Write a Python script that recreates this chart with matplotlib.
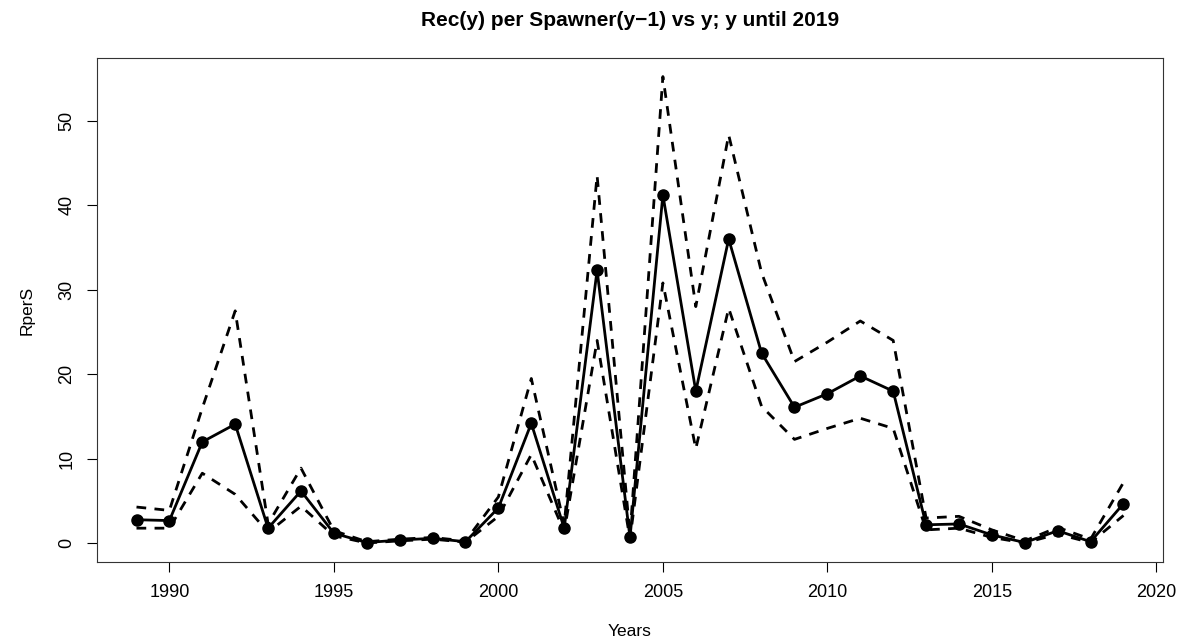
import matplotlib.pyplot as plt
import numpy as np

plt.rcParams['font.family'] = ['Liberation Sans', 'DejaVu Sans']

years = np.arange(1989, 2020)
rpers = [2.8, 2.7, 12.0, 14.1, 1.8, 6.2, 1.2, 0.1, 0.4, 0.6, 0.2,
         4.2, 14.2, 1.8, 32.3, 0.7, 41.2, 18.0, 36.0, 22.5, 16.1,
         17.7, 19.8, 18.0, 2.2, 2.3, 1.0, 0.1, 1.5, 0.2, 4.7]
upper = [4.3, 3.9, 16.0, 27.5, 2.3, 8.9, 1.5, 0.2, 0.5, 0.7, 0.3,
         5.5, 19.5, 2.2, 43.5, 1.0, 55.2, 28.0, 48.3, 32.0, 21.5,
         23.8, 26.3, 24.0, 3.0, 3.2, 1.6, 0.3, 1.9, 0.5, 7.2]
lower = [1.8, 1.8, 8.3, 5.8, 1.3, 4.4, 0.9, 0.05, 0.3, 0.5, 0.15,
         3.2, 10.5, 1.4, 24.0, 0.5, 30.8, 11.2, 27.8, 16.2, 12.3,
         13.6, 14.8, 13.6, 1.6, 1.8, 0.7, 0.05, 1.1, 0.1, 3.3]

fig = plt.figure(figsize=(11.89, 6.42), dpi=100)
ax = fig.add_axes([0.0816, 0.1246, 0.8965, 0.7851])

ax.plot(years, rpers, '-o', color='black', lw=2, ms=8)
ax.plot(years, upper, '--', color='black', lw=2, dashes=(3.5, 3))
ax.plot(years, lower, '--', color='black', lw=2, dashes=(3.5, 3))

ax.set_xlim(1987.8, 2020.2)
ax.set_ylim(-2.2, 57.4)
ax.set_xticks(np.arange(1990, 2021, 5))
ax.set_yticks(np.arange(0, 51, 10))
ax.tick_params(direction='out', length=7.5, width=0.8, labelsize=13)
ax.tick_params(axis='x', pad=8)
ax.tick_params(axis='y', pad=8)
plt.setp(ax.get_yticklabels(), rotation=90, va='center')
for s in ax.spines.values():
    s.set_linewidth(0.8)
    s.set_color('#333333')

ax.set_title('Rec(y) per Spawner(y\u22121) vs y; y until 2019', fontsize=15,
             fontweight='bold', pad=23)
ax.set_xlabel('Years', fontsize=12.5, labelpad=17)
ax.set_ylabel('RperS', fontsize=12.5, labelpad=17)

fig.savefig('out.png', dpi=100)
